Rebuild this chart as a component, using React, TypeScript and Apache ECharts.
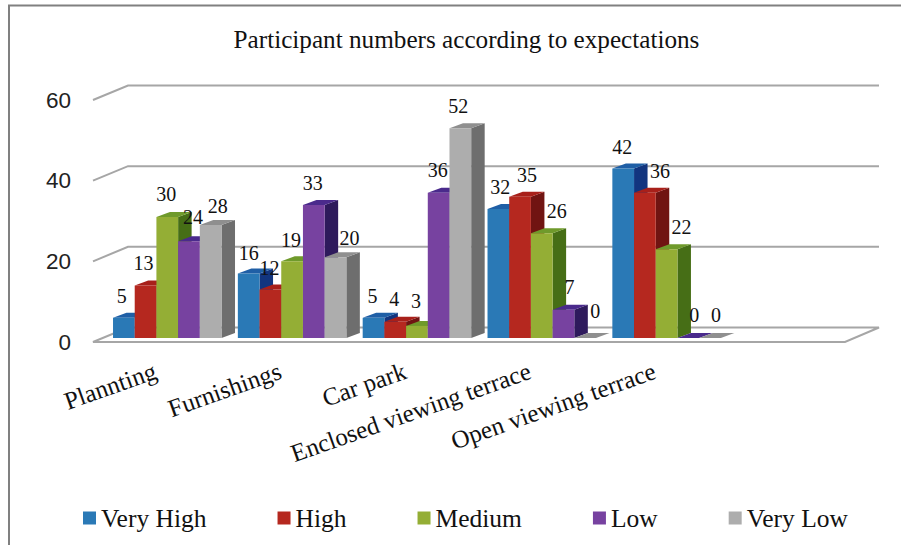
import React, { useEffect, useRef } from "react";
import * as echarts from "echarts";

const titleText = "Participant numbers according to expectations";
const categories = ["Plannting", "Furnishings", "Car park", "Enclosed viewing terrace", "Open viewing terrace", ""];
const yTicks = [20, 40, 60];
const veryHigh = [5, 16, 5, 32, 42];
const high = [13, 12, 4, 35, 36];
const medium = [30, 19, 3, 26, 22];
const low = [24, 33, 36, 7, 0];
const veryLow = [28, 20, 52, 0, 0];
const seriesNames = ["Very High", "High", "Medium", "Low", "Very Low"];
const seriesValues = [veryHigh, high, medium, low, veryLow];
const frontColors = ["#2a79b6", "#b5281f", "#94ae35", "#7742a0", "#adadad"];
const topColors = ["#1f5fa6", "#a8201a", "#6f9a2b", "#4a2a8c", "#8f8f8f"];
const sideColors = ["#12357f", "#701412", "#466e16", "#2e1a5c", "#6e6e6e"];

// hand-placed data label shifts of the original chart, per series and category
const labelShiftX = [
  [-2, 0, -1, 2, -1],
  [-2, -1, -1, 7, 15],
  [-1, -1, -1, 15, 15],
  [4, -1, -1, 6, 6],
  [7, 14, -2, 10, 6],
];
const labelShiftY = [
  [0, 2, 0, 0, 0],
  [-1, 0, -1, 0, 0],
  [-1, 1, -3, 0, 0],
  [-2, 0, -1, -1, -1],
  [3, 3, 0, -5, -1],
];

const SERIF = "'Liberation Serif', 'Times New Roman', serif";
const SANS = "'Liberation Sans', Arial, sans-serif";
const WALL_DX = 35;
const WALL_DY = -14.5;
const LINE = "#a6a6a6";
const BAR_W = 21.7;
const BAR_DX = 13.5;
const BAR_DY = -5;
const SHIFT_X = 11.85;
const SHIFT_Y = -4;

function barSeries(idx: number) {
  return {
    type: "custom",
    name: seriesNames[idx],
    coordinateSystem: "cartesian2d",
    itemStyle: { color: frontColors[idx] },
    encode: { x: 0, y: 1 },
    z: 3,
    data: seriesValues[idx].map((v, i) => [i, v]),
    renderItem: (_p: any, api: any) => {
      const cat = api.value(0);
      const val = api.value(1);
      const top = api.coord([cat, val]);
      const base = api.coord([cat, 0]);
      const x = top[0] - (BAR_W * 5) / 2 + idx * BAR_W + SHIFT_X;
      const yT = top[1] + SHIFT_Y;
      const yB = base[1] + SHIFT_Y;
      const x2 = x + BAR_W;
      return {
        type: "group",
        children: [
          {
            type: "polygon",
            shape: { points: [[x2, yT], [x2 + BAR_DX, yT + BAR_DY], [x2 + BAR_DX, yB + BAR_DY], [x2, yB]] },
            style: { fill: sideColors[idx] },
          },
          {
            type: "polygon",
            shape: { points: [[x, yT], [x2, yT], [x2 + BAR_DX, yT + BAR_DY], [x + BAR_DX, yT + BAR_DY]] },
            style: { fill: topColors[idx] },
          },
          {
            type: "rect",
            shape: { x, y: yT, width: BAR_W, height: yB - yT },
            style: { fill: frontColors[idx] },
          },
          {
            type: "text",
            z2: 100,
            x: x + BAR_W / 2 + labelShiftX[idx][cat],
            y: yT - 22 + labelShiftY[idx][cat],
            style: {
              text: String(val),
              fontFamily: SERIF,
              fontSize: 20,
              fill: "#111",
              align: "center",
              verticalAlign: "middle",
            },
          },
        ],
      };
    },
  };
}

export default function App() {
  const ref = useRef<HTMLDivElement>(null);
  useEffect(() => {
    const chart = echarts.init(ref.current!, null, { renderer: "svg" });
    chart.setOption({
      animation: false,
      backgroundColor: "#fff",
      title: {
        text: titleText,
        left: 461.5,
        top: 22,
        textAlign: "center",
        textStyle: { fontFamily: SERIF, fontSize: 25.2, fontWeight: "normal", color: "#111" },
      },
      legend: {
        data: seriesNames,
        left: 78,
        top: 500,
        icon: "rect",
        itemWidth: 13,
        itemHeight: 13,
        itemGap: 71,
        selectedMode: false,
        textStyle: { fontFamily: SERIF, fontSize: 25.5, color: "#111" },
      },
      grid: { left: 93, top: 100, width: 749, height: 242 },
      xAxis: {
        type: "category",
        data: categories,
        axisLine: { show: false },
        axisTick: { show: false },
        axisLabel: {
          interval: 0,
          rotate: 19.5,
          margin: 28,
          fontFamily: SERIF,
          fontSize: 25,
          color: "#111",
        },
      },
      yAxis: {
        type: "value",
        min: 0,
        max: 60,
        interval: 20,
        axisLine: { show: false },
        axisTick: { show: false },
        splitLine: { show: false },
        axisLabel: { margin: 22, fontFamily: SANS, fontSize: 22.5, color: "#222" },
      },
      graphic: [
        {
          type: "polyline",
          shape: { points: [[9, 546], [9, 5.5], [901, 5.5]] },
          style: { stroke: "#808080", lineWidth: 2, fill: "none" },
        },
      ],
      series: [
        {
          type: "custom",
          coordinateSystem: "cartesian2d",
          encode: { y: 0 },
          z: 1,
          silent: true,
          data: [[0]],
          renderItem: (p: any, api: any) => {
            const cs = p.coordSys;
            const y = api.coord([0, 0])[1];
            const x1 = cs.x;
            const x2 = cs.x + cs.width + 3;
            return {
              type: "polygon",
              shape: {
                points: [[x1, y], [x2, y], [x2 + WALL_DX - 1, y + WALL_DY], [x1 + WALL_DX, y + WALL_DY]],
              },
              style: { fill: "#fff", stroke: LINE, lineWidth: 2 },
            };
          },
        },
        {
          type: "custom",
          coordinateSystem: "cartesian2d",
          encode: { y: 0 },
          z: 1,
          silent: true,
          data: yTicks.map((t) => [t]),
          renderItem: (p: any, api: any) => {
            const cs = p.coordSys;
            const y = api.coord([0, api.value(0)])[1];
            return {
              type: "polyline",
              shape: {
                points: [[cs.x, y], [cs.x + WALL_DX, y + WALL_DY], [cs.x + cs.width + 37, y + WALL_DY]],
              },
              style: { fill: "none", stroke: LINE, lineWidth: 2 },
            };
          },
        },
        ...seriesNames.map((_, i) => barSeries(i)),
      ],
    });
    return () => chart.dispose();
  }, []);
  return <div ref={ref} style={{ position: "absolute", left: 0, top: 0, width: 901, height: 545 }} />;
}
